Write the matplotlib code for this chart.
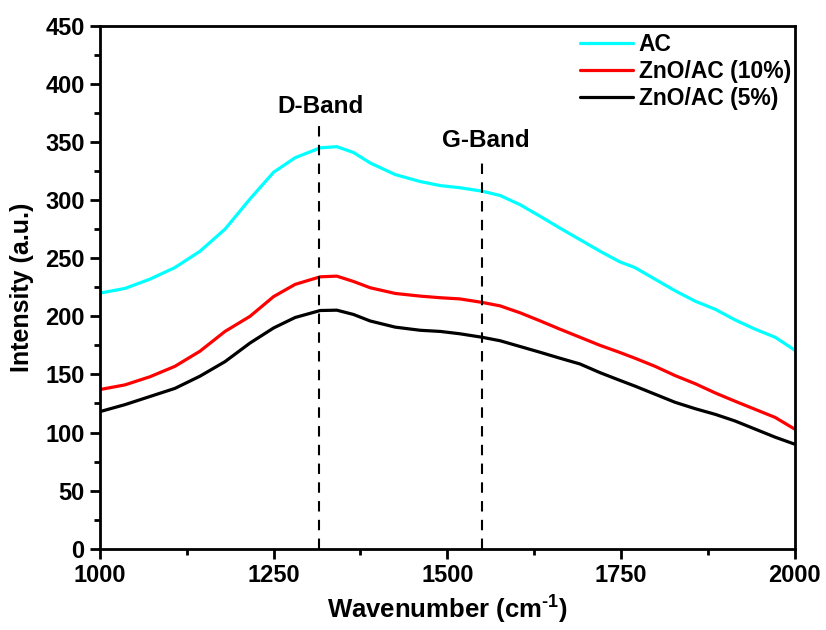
import numpy as np
import matplotlib
matplotlib.use("Agg")
import matplotlib.pyplot as plt
from matplotlib.ticker import MultipleLocator

plt.rcParams['font.family'] = ['Liberation Sans', 'DejaVu Sans']
plt.rcParams['font.weight'] = 'bold'
plt.rcParams['mathtext.fontset'] = 'custom'
plt.rcParams['mathtext.rm'] = 'Liberation Sans:bold'
plt.rcParams['mathtext.bf'] = 'Liberation Sans:bold'

# values
wn = [1000, 1036, 1072, 1108, 1144, 1180, 1216, 1250, 1281, 1317, 1341, 1365,
      1389, 1425, 1461, 1490, 1518, 1550, 1576, 1605, 1634, 1662, 1691, 1720,
      1748, 1770, 1799, 1828, 1857, 1886, 1914, 1943, 1972, 2000]
ac = [220, 224, 232, 242, 256, 275, 301, 324, 336.5, 345, 346, 341,
      332, 322, 316, 312.5, 310.7, 307.7, 304, 296, 286, 276, 266, 256,
      247, 242, 232, 222, 213, 206, 197, 189, 182, 171]
zno10 = [137, 141, 148, 157, 170, 187, 200, 217, 227.5, 234, 234.6, 230,
         224.6, 219.7, 217.4, 216, 215, 212, 209, 203, 196, 189, 182, 175,
         169, 164, 157, 149, 142, 134, 127, 120, 113, 103]
zno5 = [118, 124, 131, 138, 148.5, 161, 177, 190, 199, 205, 205.3, 201.6,
        196, 190.7, 188, 187, 185, 182, 179, 174, 169, 164, 159, 151.5,
        145, 140, 133, 126, 120.5, 115.6, 110, 103, 96, 90]

d_band = 1315
g_band = 1550

fig = plt.figure(figsize=(8.26, 6.30), dpi=100)
ax = fig.add_axes([0.121, 0.129, 0.841, 0.830])

kw = dict(lw=2.3, solid_joinstyle='round', solid_capstyle='round')
ax.plot(wn, ac, color='cyan', label='AC', **kw)
ax.plot(wn, zno10, color='red', label='ZnO/AC (10%)', **kw)
ax.plot(wn, zno5, color='black', label='ZnO/AC (5%)', **kw)

ax.plot([d_band, d_band], [0, 365], color='black', lw=1.5, ls=(0, (5, 4)))
ax.plot([g_band, g_band], [0, 332], color='black', lw=1.5, ls=(0, (5, 4)))
ax.text(d_band + 3, 381, 'D-Band', ha='center', va='center', fontsize=17.5, fontweight='bold')
ax.text(g_band + 5, 351, 'G-Band', ha='center', va='center', fontsize=17.5, fontweight='bold')

ax.set_xlim(1000, 2000)
ax.set_ylim(0, 450)
ax.xaxis.set_major_locator(MultipleLocator(250))
ax.xaxis.set_minor_locator(MultipleLocator(125))
ax.yaxis.set_major_locator(MultipleLocator(50))
ax.yaxis.set_minor_locator(MultipleLocator(25))
ax.tick_params(which='major', direction='out', length=7, width=2, labelsize=17, pad=4)
ax.tick_params(which='minor', direction='out', length=4, width=2)
for lbl in ax.get_xticklabels() + ax.get_yticklabels():
    lbl.set_fontweight('bold')
for s in ax.spines.values():
    s.set_linewidth(2)

ax.set_xlabel('Wavenumber (cm$^{\\text{-}1}$)', fontsize=18.5, fontweight='bold', labelpad=4)
ax.set_ylabel('Intensity (a.u.)', fontsize=18, fontweight='bold', labelpad=8)

leg = ax.legend(loc='upper right', bbox_to_anchor=(0.998, 0.991), frameon=False,
                handlelength=2.3, handletextpad=0.25, borderaxespad=0, borderpad=0.1,
                labelspacing=0.17, prop={'weight': 'bold', 'size': 16.5})

fig.savefig('out.png', dpi=100)
